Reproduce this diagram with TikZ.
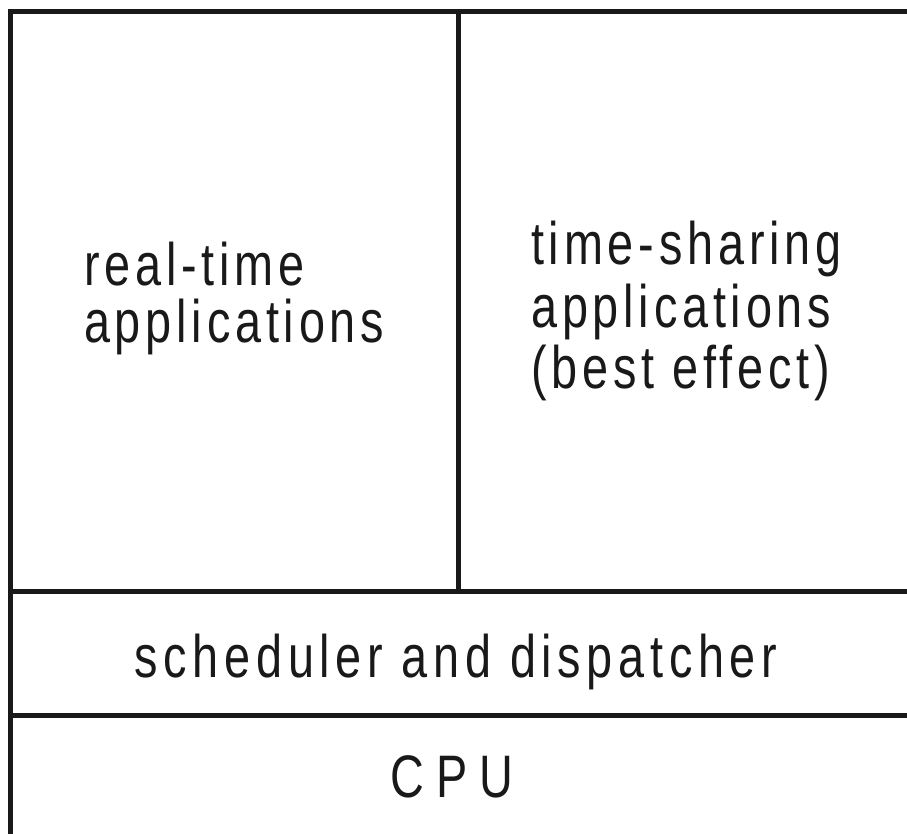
\documentclass[tikz,border=0pt]{standalone}
\usepackage{fontspec}
\setmainfont{Liberation Sans}[FakeStretch=0.78, LetterSpace=8]
\begin{document}
\begin{tikzpicture}[x=1pt,y=-1pt,
  rule/.style={line width=5pt, line cap=butt, color=black!90},
  lbl/.style={anchor=base west, inner sep=0pt, font=\fontsize{60}{60}\selectfont, text=black!90},
  lblc/.style={anchor=base, inner sep=0pt, font=\fontsize{60}{60}\selectfont, text=black!90}]
\useasboundingbox (0,0) rectangle (907,834);
% frame
\coordinate (tl) at (10.5,11.5);
\coordinate (tr) at (907,11.5);
\coordinate (bl) at (10.5,834);
\draw[rule] (10.5,834) -- (10.5,9);
\draw[rule] (8,11.5) -- (907,11.5);
\draw[rule] (8,591) -- (907,591);
\draw[rule] (8,715.5) -- (907,715.5);
\draw[rule] (458,11.5) -- (458,589);
% texts
\node[lbl] (rt1) at (84,285) {real-time};
\node[lbl] (rt2) at (84,342) {applications};
\node[lbl] (ts1) at (531,265) {time-sharing};
\node[lbl] (ts2) at (531,327) {applications};
\node[lbl] (ts3) at (531,388) {(best effect)};
\node[lblc] (sd) at (456,677) {\addfontfeature{LetterSpace=9.5}scheduler and dispatcher};
\node[lblc] (cpu) at (452,797) {\addfontfeature{LetterSpace=20}CPU};
\end{tikzpicture}
\end{document}
